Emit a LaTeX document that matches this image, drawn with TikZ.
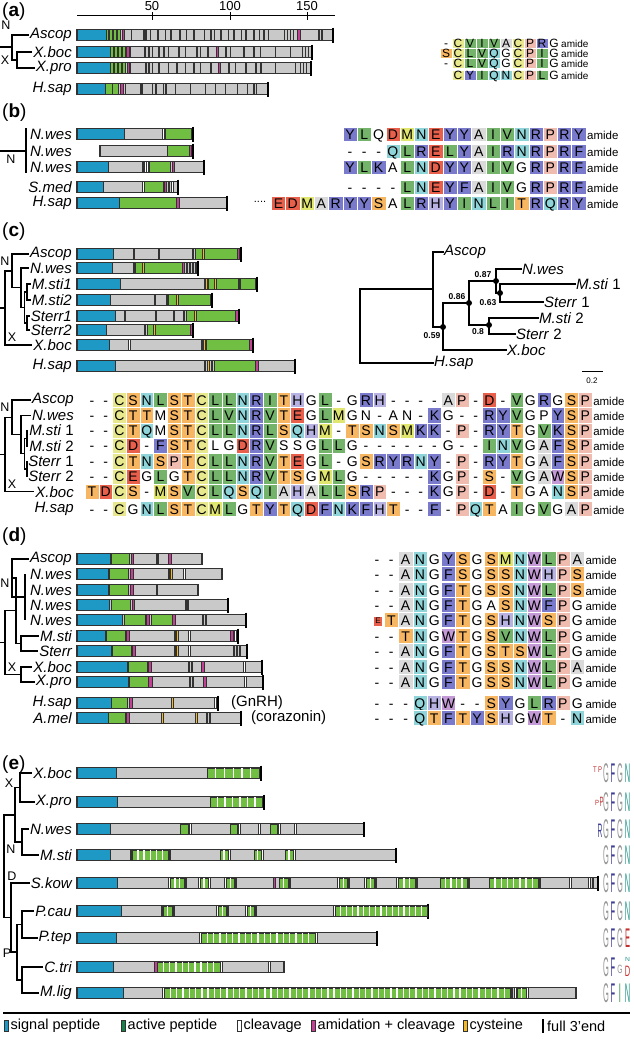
\documentclass[tikz,border=0pt]{standalone}
\usepackage{fontspec}
\setmainfont{Liberation Sans}
\usepackage{graphicx}
\usetikzlibrary{calc}

\definecolor{sigblue}{RGB}{30,152,196}
\definecolor{actgreen}{RGB}{112,190,66}
\definecolor{legactive}{RGB}{24,128,72}
\definecolor{amimag}{RGB}{196,64,150}
\definecolor{cysyel}{RGB}{242,186,40}
\definecolor{bargray}{RGB}{201,201,201}
\definecolor{barline}{RGB}{50,50,50}
\definecolor{alyel}{RGB}{232,232,142}
\definecolor{almet}{RGB}{224,230,110}
\definecolor{algrn}{RGB}{116,180,106}
\definecolor{algry}{RGB}{218,218,218}
\definecolor{alpnk}{RGB}{240,188,176}
\definecolor{alblu}{RGB}{122,122,204}
\definecolor{allil}{RGB}{196,154,214}
\definecolor{allav}{RGB}{184,178,226}
\definecolor{alcya}{RGB}{142,212,216}
\definecolor{alora}{RGB}{246,182,98}
\definecolor{alred}{RGB}{232,96,76}
\definecolor{logogray}{RGB}{150,150,150}
\definecolor{logoblue}{RGB}{62,62,150}
\definecolor{logoteal}{RGB}{38,150,140}
\definecolor{logored}{RGB}{196,48,48}
\definecolor{logogrn}{RGB}{40,140,64}

\newcommand*{\alnfont}{\fontsize{14}{14}\selectfont}
\newcommand*{\amidefont}{\fontsize{11.5}{12}\selectfont}
\newcommand*{\alnp}{14.3}
\newcommand*{\alnh}{15}
\newcommand*{\alnth}{10pt}

\tikzset{
  barframe/.style={draw=barline, line width=1.1pt},
  fullend/.style={draw=black, line width=2.2pt},
  tree/.style={draw=black, line width=1.3pt},
  phylo/.style={draw=black, line width=1.6pt},
  species/.style={font=\fontsize{15}{16}\selectfont\itshape, anchor=east, inner sep=1pt},
  tip/.style={font=\fontsize{15}{16}\selectfont\itshape, anchor=west, inner sep=0pt},
  plain/.style={font=\fontsize{15}{16}\selectfont, anchor=west, inner sep=0pt},
  clade/.style={font=\fontsize{12.5}{13}\selectfont, inner sep=0pt},
  panel/.style={font=\fontsize{19}{20}\selectfont, anchor=west, inner sep=0pt},
  support/.style={font=\fontsize{8.5}{9}\selectfont\bfseries, inner sep=0pt},
  legtext/.style={font=\fontsize{14.5}{15}\selectfont, anchor=west, inner sep=0pt},
  logo/.style={inner sep=0pt, font=\fontsize{15}{15}\selectfont},
  res/.style={draw=white, line width=0.5pt, inner sep=0pt, font=\alnfont,
    minimum width=\alnp, minimum height=\alnh, text height=\alnth, text depth=0pt},
  amide/.style={font=\amidefont, anchor=west, inner sep=0pt,
    text height=\alnth, text depth=0pt},
  resA/.style={fill=algry}, resC/.style={fill=alyel}, resD/.style={fill=alred},
  resE/.style={fill=alred}, resF/.style={fill=alblu}, resH/.style={fill=allav},
  resI/.style={fill=algrn}, resK/.style={fill=alblu}, resL/.style={fill=algrn},
  resM/.style={fill=almet}, resN/.style={fill=alcya}, resP/.style={fill=alpnk},
  resQ/.style={fill=alcya}, resR/.style={fill=alblu}, resS/.style={fill=alora},
  resT/.style={fill=alora}, resV/.style={fill=algrn}, resW/.style={fill=allil},
  resY/.style={fill=alblu},
}

\newcommand*{\PepBar}[5]{% #1 = y, #2 = start, #3 = end, #4 = 1 for full 3' end, #5 = list of from/to/colour
  \fill[bargray] (#2,#1-5.5) rectangle (#3,#1+5.5);
  \foreach \segfrom/\segto/\segcol in {#5} {
    \filldraw[fill=\segcol, draw=barline, line width=0.4pt] (\segfrom,#1-5.5) rectangle (\segto,#1+5.5);
  }
  \draw[barframe] (#2,#1-5.5) rectangle (#3,#1+5.5);
  \ifnum#4=1 \draw[fullend] (#3,#1-7.5) -- (#3,#1+7.5);\fi}

\newcommand*{\ActRep}[4]{% #1 = y, #2 = from, #3 = to, #4 = number of repeats
  \filldraw[fill=actgreen, draw=barline, line width=0.4pt] (#2,#1-4.9) rectangle (#3,#1+4.9);
  \pgfmathsetmacro\repw{(#3-#2)/#4}
  \foreach \repk in {1,...,#4} {
    \ifnum\repk<#4 \fill[white] (#2+\repk*\repw-0.7,#1-4.9) rectangle ++(1.4,9.8);\fi
  }}

\newcommand*{\AlnRow}[4]{% #1 = row name, #2 = x of first cell, #3 = y, #4 = residues
  \def\alnname{#1}\def\alnx{#2}\def\alny{#3}\def\alnk{0}%
  \AlnLoop#4\relax
  \node[amide] (#1-amide) at (\alnx-0.5*\alnp+1,#3) {amide};}
\def\AlnLoop#1{\ifx#1\relax\else\AlnCell{#1}\expandafter\AlnLoop\fi}
\newcommand*{\AlnCell}[1]{%
  \pgfmathtruncatemacro\alnk{\alnk+1}%
  \ifx#1.\else\node[res, res#1/.try] (\alnname-\alnk) at (\alnx,\alny) {\uppercase{#1}};\fi
  \pgfmathsetmacro\alnx{\alnx+\alnp}}

\newcommand*{\CTree}[8]{% #1 = prefix, #2..#8 = y of Ascop, N.wes, M.sti 1, M.sti 2, Sterr 1, Sterr 2, X.boc
  \pgfmathsetmacro\ym{(#4+#5)/2}
  \pgfmathsetmacro\ys{(#6+#7)/2}
  \pgfmathsetmacro\yms{(\ym+\ys)/2}
  \pgfmathsetmacro\yn{(#3+\yms)/2}
  \pgfmathsetmacro\ya{(#2+\yn)/2}
  \pgfmathsetmacro\yr{(\ya+#8)/2}
  \draw[tree] (#1-Msti1.west) -| (27,\ym) |- (#1-Msti2.west);
  \draw[tree] (#1-Sterr1.west) -| (27,\ys) |- (#1-Sterr2.west);
  \draw[tree] (27,\ym) -| (24.5,\yms) |- (27,\ys);
  \draw[tree] (#1-Nwes.west) -| (21,\yn) |- (24.5,\yms);
  \draw[tree] (#1-Ascop.west) -| (12,\ya) |- (21,\yn);
  \draw[tree] (12,\ya) -| (5,\yr) |- (#1-Xboc.west);
  \draw[tree] (0,\yr) -- (5,\yr);
  \node[clade] (#1-N) at (5,#2+7) {N};
  \node[clade] (#1-X) at (12,#8-8) {X};}

\newcommand*{\Logo}[2]{% #1 = y, #2 = list of x/colour/letter/xscale/yscale/shift
  \foreach \lx/\lc/\ll/\lxs/\lys/\ldy [count=\li] in {#2} {
    \node[logo, text=\lc] (logo-#1-\li) at (\lx,#1+\ldy) {\scalebox{\lxs}[\lys]{\ll}};
  }}

\begin{document}
\begin{tikzpicture}[x=1pt,y=-1pt]
\useasboundingbox (0,0) rectangle (633,1039);
\fill[white] (0,0) rectangle (633,1039);

%% (a)
\node[panel] (a-lab) at (2,12) {(\textbf{a})};
\draw[line width=1pt] (77,15) -- (335,15);
\foreach \v/\x in {50/152,100/230,150/307} {
  \draw[line width=1pt] (\x,12) -- (\x,20);
  \node[font=\fontsize{13}{13}\selectfont, inner sep=0pt] (tick\v) at (\x,6) {\v};
}
\PepBar{35}{77}{333}{1}{77/106/sigblue, 106/120/actgreen, 108/109/cysyel, 112/113/cysyel, 116/117/cysyel,
  122/124.5/amimag, 131/131.6/barline, 143/146/barline, 150/150.6/barline, 157/158.5/cysyel,
  165/165.6/barline, 170/171.5/cysyel, 179/180.5/cysyel, 186/186.6/barline, 193/194.5/cysyel,
  204/204.6/barline, 210/211.5/cysyel, 214/214.6/barline, 220/221.5/cysyel, 228/228.6/barline,
  233/234.5/cysyel, 241/241.6/barline, 245/246.5/cysyel, 253/254.5/cysyel, 259/259.6/barline,
  263/264.5/cysyel, 268/268.6/barline, 284/284.6/barline, 287/287.6/barline, 290/290.6/barline,
  293/293.6/barline, 297/300/amimag, 318/319.5/white, 321/322.5/white}
\PepBar{52}{77}{312}{1}{77/110/sigblue, 110/125/actgreen, 113/114/cysyel, 117/118/cysyel, 121/122/cysyel,
  126/129/amimag, 130/130.6/barline, 144/145.5/cysyel, 148/149.5/cysyel, 152/152.6/barline,
  158/159.5/cysyel, 163/164.5/cysyel, 168/168.6/barline, 178/179.5/cysyel, 185/185.6/barline,
  196/197.5/cysyel, 200/200.6/barline, 207/208.5/cysyel, 216/218.5/amimag, 225/226.5/cysyel,
  230/230.6/barline, 243/244.5/cysyel, 253/254.5/cysyel, 260/260.6/barline, 275/275.6/barline,
  290/290.6/barline, 302/302.6/barline, 305/305.6/barline, 308/308.6/barline}
\PepBar{68}{77}{311}{1}{77/110/sigblue, 110/125/actgreen, 113/114/cysyel, 117/118/cysyel, 121/122/cysyel,
  127/129.5/amimag, 130/130.6/barline, 145/146.5/cysyel, 148/149.5/cysyel, 152/152.6/barline,
  158/159.5/cysyel, 168/168.6/barline, 176/177.5/cysyel, 185/185.6/barline, 193/194.5/cysyel,
  200/200.6/barline, 210/211.5/cysyel, 218/220.5/amimag, 228/229.5/cysyel, 235/235.6/barline,
  245/246.5/cysyel, 255/256.5/cysyel, 260/261.5/cysyel, 275/275.6/barline, 295/295.6/barline,
  300/300.6/barline, 303/303.6/barline, 306/306.6/barline}
\PepBar{89}{77}{268}{1}{77/105/sigblue, 105/118/actgreen, 112/112.6/barline, 120/123/amimag,
  125/125.6/barline, 140/142/barline, 152/152.6/barline, 155/156/cysyel, 163/163.6/barline,
  165/166.5/barline, 175/175.6/barline, 190/190.6/barline, 205/205.6/barline, 215/215.6/barline,
  225/225.6/barline, 237/237.6/barline, 247/247.6/barline, 253/254/cysyel, 256/256.6/barline}
\node[species] (a-Ascop) at (73,35) {Ascop};
\node[species] (a-Xboc) at (73,52) {X.boc};
\node[species] (a-Xpro) at (73,68) {X.pro};
\node[species] (a-Hsap) at (73,89) {H.sap};
\draw[tree] (a-Ascop.west) -| (12,60) -- (17,60);
\draw[tree] (a-Xboc.west) -| (17,60) |- (a-Xpro.west);
\draw[tree] (0,47) -- (12,47);
\node[clade] (a-N) at (6,25) {N};
\node[clade] (a-X) at (5,60) {X};
\renewcommand*{\alnp}{12}\renewcommand*{\alnh}{9.6}\renewcommand*{\alnth}{8.6pt}
\renewcommand*{\alnfont}{\fontsize{12}{12}\selectfont}
\renewcommand*{\amidefont}{\fontsize{10}{10}\selectfont}
\AlnRow{ar1}{446}{43}{-CVIVACPRG}
\AlnRow{ar2}{446}{53}{SCLVQGCPIG}
\AlnRow{ar3}{446}{63}{-CLVQGCPIG}
\AlnRow{ar4}{446}{75}{.CYIQNCPLG}

%% (b)
\node[panel] (b-lab) at (2,113) {(\textbf{b})};
\PepBar{134}{77}{193}{1}{77/124/sigblue, 162/164/white, 165/191/actgreen, 191/192.5/amimag}
\PepBar{151}{100}{193}{1}{167/189/actgreen, 189/191/amimag}
\PepBar{167}{77}{204}{1}{77/108/sigblue, 142/143.5/white, 144.5/146/white, 146.5/148/white,
  149/170/actgreen, 172.5/174/amimag}
\PepBar{187}{77}{178}{1}{77/103/sigblue, 142/144/white, 144/163/actgreen, 164/166/amimag,
  168/169.5/white, 171.5/173/white}
\PepBar{203}{77}{227}{1}{77/119/sigblue, 119/176/actgreen, 176/179/amimag}
\node[species] (b-Nwes1) at (73,134) {N.wes};
\node[species] (b-Nwes2) at (73,151) {N.wes};
\node[species] (b-Nwes3) at (73,167) {N.wes};
\node[species] (b-Smed) at (73,187) {S.med};
\node[species] (b-Hsap) at (73,203) {H.sap};
\draw[tree] (26,128) -- (26,173);
\draw[tree] (0,151) -- (26,151);
\node[clade] (b-N) at (11,159) {N};
\renewcommand*{\alnp}{14.3}\renewcommand*{\alnh}{14.5}\renewcommand*{\alnth}{10pt}
\renewcommand*{\alnfont}{\fontsize{14}{14}\selectfont}
\renewcommand*{\amidefont}{\fontsize{11.5}{12}\selectfont}
\AlnRow{br1}{350}{134}{YLqDMNEYYAIVNRPRY}
\AlnRow{br2}{350}{151}{---QLRELYAIRNRPRF}
\AlnRow{br3}{350}{167}{YLKaLNDYYAIVGRPRF}
\AlnRow{br4}{350}{187}{----LNEYFAIVGRPRF}
\AlnRow{br5}{278.5}{203}{EDMARYYSaLRHYINLITRQRY}
\node[font=\fontsize{11}{11}\selectfont, inner sep=0pt] (b-dots) at (260,202) {....};

%% (c)
\node[panel] (c-lab) at (2,232) {(\textbf{c})};
\PepBar{254}{77}{241}{1}{77/113/sigblue, 133.5/134.5/barline, 158.5/159.5/barline, 192.5/193.5/barline,
  195/237/actgreen, 202.5/204/cysyel, 237/239.5/amimag}
\PepBar{268}{77}{198}{1}{77/112/sigblue, 133/135/barline, 135/182/actgreen, 142.5/144/cysyel,
  182/184.5/amimag, 186/187.5/white, 189/190.5/white, 192/193.5/white, 195/196.5/white}
\PepBar{284}{77}{257}{1}{77/120/sigblue, 204/205/barline, 205.5/207/cysyel, 208/238/actgreen,
  214.5/216/cysyel, 238.5/239.5/barline, 240/255/actgreen}
\PepBar{300}{77}{212}{1}{77/110/sigblue, 154.5/155.5/barline, 166.5/167.5/barline, 168/210/actgreen,
  176.5/178/cysyel}
\PepBar{316}{77}{239}{1}{77/115/sigblue, 124.5/125.5/barline, 155.5/156.5/barline, 173.5/174.5/barline,
  183.5/184.5/barline, 186/235/actgreen, 194.5/196/cysyel, 235/238/amimag}
\PepBar{330}{77}{193}{1}{77/106/sigblue, 144.5/145.5/barline, 147/190/actgreen, 153.5/155/cysyel,
  190/192.5/amimag}
\PepBar{345}{77}{253}{1}{77/109/sigblue, 128/130/white, 201/202/barline, 203/205/cysyel,
  206/249/actgreen, 249/252/amimag}
\PepBar{366}{77}{295}{1}{77/115/sigblue, 204/205/barline, 207/209/cysyel, 211/212/barline,
  214/255/actgreen, 255/258.5/amimag}
\node[species] (c-Ascop) at (73,254) {Ascop};
\node[species] (c-Nwes) at (73,268) {N.wes};
\node[species] (c-Msti1) at (73,284) {M.sti1};
\node[species] (c-Msti2) at (73,300) {M.sti2};
\node[species] (c-Sterr1) at (73,316) {Sterr1};
\node[species] (c-Sterr2) at (73,330) {Sterr2};
\node[species] (c-Xboc) at (73,345) {X.boc};
\node[species] (c-Hsap) at (73,366) {H.sap};
\CTree{c}{254}{268}{284}{300}{316}{330}{345}

% phylogeny
\node[tip] (p-Ascop) at (444,252) {Ascop};
\node[tip] (p-Nwes) at (522,269) {N.wes};
\node[tip] (p-Msti1) at (576,284) {M.sti \textup{1}};
\node[tip] (p-Sterr1) at (544,302) {Sterr \textup{1}};
\node[tip] (p-Msti2) at (539,318) {M.sti \textup{2}};
\node[tip] (p-Sterr2) at (516,334) {Sterr \textup{2}};
\node[tip] (p-Xboc) at (507,350) {X.boc};
\node[tip] (p-Hsap) at (434,363) {H.sap};
\draw[phylo] (p-Hsap.west) -| (360,289) -- (433,289);
\draw[phylo] (p-Ascop.west) -| (433,327) -- (443,327);
\draw[phylo] (p-Xboc.west) -| (443,303) -- (469,303);
\draw[phylo] (p-Nwes.west) -| (496,293) -- (500,293);
\draw[phylo] (p-Msti1.west) -| (500,302) -- (p-Sterr1.west);
\draw[phylo] (496,281) -| (469,325) -- (489,325);
\draw[phylo] (p-Msti2.west) -| (489,334) -- (p-Sterr2.west);
\foreach \nx/\ny in {443/327, 469/303, 496/281, 500/293, 489/325} {
  \fill (\nx,\ny) circle (3);
}
\node[support] (s059) at (432,336) {0.59};
\node[support] (s086) at (457,297) {0.86};
\node[support] (s087) at (483,275) {0.87};
\node[support] (s063) at (488,303) {0.63};
\node[support] (s08) at (478,332) {0.8};
\draw[line width=1pt] (582,371) -- (603,371);
\node[font=\fontsize{8}{8}\selectfont, inner sep=0pt] (scale) at (592,381) {0.2};

% alignment
\node[species] (ca-Ascop) at (75,400) {Ascop};
\node[species] (ca-Nwes) at (75,415.3) {N.wes};
\node[species] (ca-Msti1) at (75,430.6) {M.sti \textup{1}};
\node[species] (ca-Msti2) at (75,445.9) {M.sti \textup{2}};
\node[species] (ca-Sterr1) at (75,461.2) {Sterr \textup{1}};
\node[species] (ca-Sterr2) at (75,476.5) {Sterr \textup{2}};
\node[species] (ca-Xboc) at (75,491.8) {X.boc};
\node[species] (ca-Hsap) at (75,509) {H.sap};
\CTree{ca}{400}{415.3}{430.6}{445.9}{461.2}{476.5}{491.8}
\renewcommand*{\alnp}{13.7}\renewcommand*{\alnh}{15.3}
\AlnRow{cr1}{92}{400}{--CSNLSTCLLNRITHGL-GRH----AP-D-VGRGSP}
\AlnRow{cr2}{92}{415.3}{--CTTmSTCLVNRVTEGLMGn-an-KG--RYVGpYSP}
\AlnRow{cr3}{92}{430.6}{--CTQmSTCLLNRLSQHM-TSNSMKK-P-RYTGVKSP}
\AlnRow{cr4}{92}{445.9}{--CD-FSTClGDRVssGLLG------G--INVGAFSP}
\AlnRow{cr5}{92}{461.2}{--CTNSPTCLLNRVTEGL-GSRYRNY-P-RYTGAFSP}
\AlnRow{cr6}{92}{476.5}{--CEGLGTCLLNRVTSGMLG-----KGP-S-VGAWSP}
\AlnRow{cr7}{92}{491.8}{TDCS-MSVCLQSQIAHALLSRP---KGP-D-TGaNSP}
\AlnRow{cr8}{92}{509}{--CGNLSTCMLGTYTQDFNKFHT--F-PQTaIGVGAP}

%% (d)
\node[panel] (d-lab) at (2,537) {(\textbf{d})};
\PepBar{559}{77}{202}{0}{77/110/sigblue, 111/129/actgreen, 131/133/amimag, 156/157.5/cysyel,
  158/158.6/barline, 168/171/amimag}
\PepBar{574}{77}{222}{0}{77/108/sigblue, 109/128/actgreen, 130/133/amimag, 168/169.5/cysyel,
  170.5/172/cysyel, 183/185/white}
\PepBar{590}{77}{198}{0}{77/108/sigblue, 109/128/actgreen, 130/133/amimag, 156/157.5/cysyel}
\PepBar{605}{77}{228}{1}{77/109/sigblue, 111/130/actgreen, 132/134.5/amimag, 185/186.5/cysyel,
  187/188.5/cysyel}
\PepBar{620}{77}{246}{1}{77/122/sigblue, 124/145/actgreen, 146/149/amimag, 151/172/actgreen,
  172/175/amimag, 202/203.5/cysyel, 205/206.5/cysyel}
\PepBar{636}{77}{238}{1}{77/105/sigblue, 106/125/actgreen, 126/129/amimag, 174/175.5/cysyel,
  176.5/178/cysyel, 188.5/190/white, 230/233/amimag, 234.5/236/white}
\PepBar{651}{77}{247}{1}{77/111/sigblue, 112/131/actgreen, 132/135/amimag, 174/175.5/cysyel,
  176.5/178/cysyel, 188.5/190/white, 233/234.5/white, 236/237.5/white, 239/240.5/white}
\PepBar{667}{77}{262}{1}{77/127/sigblue, 128/147/actgreen, 148/151/amimag, 188/189.5/cysyel,
  191/192.5/cysyel, 201/204/amimag, 243/245/white}
\PepBar{682}{77}{263}{1}{77/128/sigblue, 129/148/actgreen, 148.5/152/amimag, 189/190.5/cysyel,
  192/193.5/cysyel, 203/206/amimag, 244/246/white}
\PepBar{703}{77}{218}{1}{77/111/sigblue, 111/127/actgreen, 129/132/amimag, 171.5/173/cysyel,
  214/216/white}
\PepBar{718}{77}{241}{1}{77/108/sigblue, 108/125/actgreen, 126/129/amimag, 161.5/163/cysyel,
  195.5/197/cysyel, 206/207.5/white, 209/210.5/white}
\node[species] (d-Ascop) at (73,559) {Ascop};
\node[species] (d-Nwes1) at (73,574) {N.wes};
\node[species] (d-Nwes2) at (73,590) {N.wes};
\node[species] (d-Nwes3) at (73,605) {N.wes};
\node[species] (d-Nwes4) at (73,620) {N.wes};
\node[species] (d-Msti) at (73,636) {M.sti};
\node[species] (d-Sterr) at (73,651) {Sterr};
\node[species] (d-Xboc) at (73,667) {X.boc};
\node[species] (d-Xpro) at (73,682) {X.pro};
\node[species] (d-Hsap) at (73,703) {H.sap};
\node[species] (d-Amel) at (73,718) {A.mel};
\node[plain] (d-gnrh) at (231,703) {(GnRH)};
\node[plain] (d-cora) at (251,718) {(corazonin)};
\draw[tree] (d-Ascop.west) -| (12,597) -- (25,597);
\draw[tree] (25,574) -- (25,620);
\draw[tree] (12,578) -| (16,643.5) -- (21,643.5);
\draw[tree] (d-Msti.west) -| (21,643.5) |- (d-Sterr.west);
\draw[tree] (d-Xboc.west) -| (21,674.5) |- (d-Xpro.west);
\draw[tree] (16,610.75) -| (5,642.6) |- (21,674.5);
\draw[tree] (0,642.6) -- (5,642.6);
\node[clade] (d-N) at (5,583) {N};
\node[clade] (d-X) at (12,667) {X};
\renewcommand*{\alnp}{14.3}\renewcommand*{\alnh}{15}
\AlnRow{dr1}{377}{559}{--ANGYSGSMNWLPA}
\AlnRow{dr2}{377}{574}{--ANGFSGSSNWHPS}
\AlnRow{dr3}{377}{590}{--ANGFTGSSNWLPS}
\AlnRow{dr4}{377}{605}{--ANGFTGaSNWFPG}
\AlnRow{dr5}{377}{620}{.TANGFTGSHNWSPG}
\node[fill=alred, minimum width=8, minimum height=9, inner sep=0pt,
  font=\fontsize{8}{8}\selectfont] (dr5-E) at (378,621) {E};
\AlnRow{dr6}{377}{636}{--TNGWTGSVNWLPG}
\AlnRow{dr7}{377}{651}{--ANGFTGSTSWLPG}
\AlnRow{dr8}{377}{667}{--ANGFTGSSNWLPA}
\AlnRow{dr9}{377}{682}{--ANGFTGSSNWLPG}
\AlnRow{dr10}{377}{703}{---QHW--SYGLRPG}
\AlnRow{dr11}{377}{718}{---QTFTYSHGWT-N}

%% (e)
\node[panel] (e-lab) at (2,765) {(\textbf{e})};
\PepBar{773}{77}{261}{1}{77/116/sigblue}
\ActRep{773}{207}{259.5}{6}
\PepBar{802}{77}{264}{1}{77/117/sigblue}
\ActRep{802}{210}{262.5}{7}
\PepBar{829}{77}{364}{1}{77/110/sigblue, 189.5/191/white, 238.5/240/white, 258.5/260/white,
  278.5/280/white, 294.5/296/white}
\ActRep{829}{180}{188.5}{1}\ActRep{829}{230}{237.5}{1}\ActRep{829}{270}{277.5}{1}
\PepBar{855}{77}{396}{1}{77/110/sigblue, 130/131.5/white, 169/170.5/white, 228.5/230/white,
  261.5/263/white, 293.5/295/white}
\ActRep{855}{132}{168.5}{6}\ActRep{855}{220}{228}{2}\ActRep{855}{254}{261}{2}\ActRep{855}{285}{293}{2}
\PepBar{883}{77}{598}{1}{77/117/sigblue, 168.5/170/white, 185/186.5/white, 198.5/200/white,
  208.5/210/white, 224.5/226/white, 235/236.5/white, 273/275.5/amimag, 289/290.5/white,
  337.5/339/white, 348/349.5/white, 364.5/366/white, 375/376.5/white, 396.5/398/white,
  416/417.5/white, 468/469.5/white, 539/540.5/white, 569.5/571/white, 588.5/590/white, 592/593.5/white}
\ActRep{883}{170}{184.5}{3}\ActRep{883}{200}{208}{2}\ActRep{883}{226}{234.5}{2}
\ActRep{883}{279}{288.5}{2}\ActRep{883}{339}{347.5}{2}\ActRep{883}{366}{374.5}{2}
\ActRep{883}{398}{415.5}{3}\ActRep{883}{440}{467.5}{5}\ActRep{883}{489}{538.5}{8}
\PepBar{911}{77}{428}{1}{77/121/sigblue, 161/162.5/barline, 173/174.5/white, 216.5/218/white,
  227/228.5/white, 245.5/247/white, 255/256.5/white, 333.5/335/white}
\ActRep{911}{163}{172.5}{2}\ActRep{911}{218}{226.5}{2}\ActRep{911}{247}{254.5}{2}\ActRep{911}{335}{427}{16}
\PepBar{938}{77}{377}{1}{77/116/sigblue, 199.5/201/white, 315.5/317/white}
\ActRep{938}{201}{315}{18}
\PepBar{967}{77}{284}{0}{77/113/sigblue, 154/157/amimag, 220.5/222/white, 268.5/270/white}
\ActRep{967}{157}{220}{10}
\PepBar{993}{77}{576}{0}{77/123/sigblue, 162.5/164/white, 511/512.5/white, 514.5/516/white,
  526.5/528/white}
\ActRep{993}{164}{510.5}{55}\ActRep{993}{517}{526}{2}
\node[species] (e-Xboc) at (73,773) {X.boc};
\node[species] (e-Xpro) at (73,802) {X.pro};
\node[species] (e-Nwes) at (73,829) {N.wes};
\node[species] (e-Msti) at (73,855) {M.sti};
\node[species] (e-Skow) at (73,883) {S.kow};
\node[species] (e-Pcau) at (73,911) {P.cau};
\node[species] (e-Ptep) at (73,938) {P.tep};
\node[species] (e-Ctri) at (73,967) {C.tri};
\node[species] (e-Mlig) at (73,993) {M.lig};
\draw[tree] (e-Xboc.west) -| (20,787.5) |- (e-Xpro.west);
\draw[tree] (e-Nwes.west) -| (22,842) |- (e-Msti.west);
\draw[tree] (20,787.5) -| (15,815) |- (22,842);
\draw[tree] (e-Pcau.west) -| (22,924.5) |- (e-Ptep.west);
\draw[tree] (e-Ctri.west) -| (22,980) |- (e-Mlig.west);
\draw[tree] (22,924.5) -| (17,952) |- (22,980);
\draw[tree] (e-Skow.west) -| (11,917.5) |- (17,952);
\draw[tree] (15,815) -| (4,866) |- (11,917.5);
\node[clade] (e-X) at (9,783) {X};
\node[clade] (e-N) at (11,849) {N};
\node[clade] (e-D) at (12,876) {D};
\node[clade] (e-P) at (7,953) {P};

% sequence logos
\Logo{773}{595/logored/T/0.4/0.55/-3, 600/logored/P/0.4/0.55/-3, 606/logogray/G/0.5/1.8/0,
  613/logoblue/F/0.5/1.8/0, 620/logogray/G/0.5/1.8/0, 627.5/logoteal/N/0.5/1.8/0}
\Logo{802}{597/logored/P/0.4/0.5/1, 601.5/logored/P/0.4/0.9/0, 606/logogray/G/0.5/1.8/0,
  613/logoblue/F/0.5/1.8/0, 620/logogray/G/0.5/1.8/0, 627.5/logoteal/N/0.5/1.8/0}
\Logo{829}{600/logoblue/R/0.45/1.3/2, 606/logogray/G/0.5/1.8/0, 613/logoblue/F/0.5/1.8/0,
  620/logogray/G/0.5/1.8/0, 627.5/logoteal/N/0.5/1.8/0}
\Logo{855}{606/logogray/G/0.5/1.8/0, 613/logoblue/F/0.5/1.8/0, 620/logogray/G/0.5/1.8/0,
  627.5/logoteal/N/0.5/1.8/0}
\Logo{883}{606/logogray/G/0.5/1.8/0, 613/logoblue/F/0.5/1.8/0, 620/logogray/G/0.5/1.8/0,
  627.5/logoteal/N/0.5/1.8/0}
\Logo{911}{606/logogray/G/0.5/1.8/0, 613/logoblue/F/0.5/1.8/0, 620/logogray/G/0.5/1.8/0,
  627.5/logoteal/N/0.5/1.8/0}
\Logo{938}{606/logogray/G/0.5/1.8/0, 613/logoblue/F/0.5/1.8/0, 620/logogray/G/0.5/1.8/0,
  627.5/logored/E/0.5/1.8/0}
\Logo{967}{606/logogray/G/0.5/1.8/0, 613/logoblue/F/0.5/1.8/0, 620/logogray/G/0.45/0.8/2,
  627.5/logoteal/N/0.45/0.4/-8, 627.5/logored/D/0.5/1.0/4}
\Logo{993}{606/logogray/G/0.5/1.8/0, 613/logoblue/F/0.5/1.8/0, 620/logogrn/I/0.5/1.8/0,
  627.5/logoteal/N/0.5/1.8/0}

%% legend
\draw[line width=2pt] (3,1013) -- (630,1013);
\foreach \sx/\sc/\txt [count=\i] in {4/sigblue/signal peptide, 121/legactive/active peptide,
  237/white/cleavage, 311/amimag/amidation + cleavage, 463/cysyel/cysteine} {
  \filldraw[fill=\sc, draw=barline, line width=0.6pt] (\sx,1020.5) rectangle ++(4,11);
  \node[legtext] (leg\i) at (\sx+6.5,1026) {\txt};
}
\draw[fullend] (543,1019) -- (543,1033);
\node[legtext] (leg6) at (547,1026) {full 3'end};
\end{tikzpicture}
\end{document}
